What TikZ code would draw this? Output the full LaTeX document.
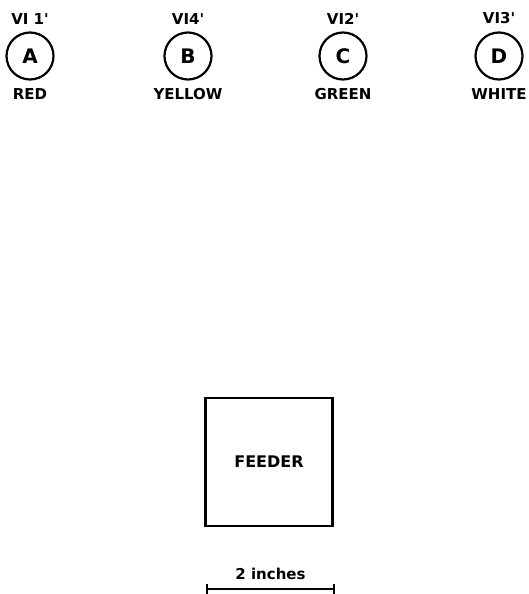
\documentclass[tikz,border=0pt]{standalone}
\usepackage{fontspec}
\setmainfont{DejaVu Sans}
\newfontfamily\plotFont{DejaVu Sans}
\usepackage{tikz}
\usetikzlibrary{positioning}

\begin{document}
\begin{tikzpicture}[
    x=1pt, y=-1pt,
    station/.style={
        circle, draw=black, line width=2.2pt,
        minimum size=47pt, inner sep=0pt,
        font=\plotFont\bfseries\fontsize{20}{20}\selectfont
    },
    tagText/.style={
        font=\plotFont\bfseries\fontsize{15}{15}\selectfont,
        inner sep=0pt
    },
    feederBox/.style={
        rectangle, draw=black, line width=2.4pt,
        minimum width=127pt, minimum height=128pt,
        font=\plotFont\bfseries\fontsize{16}{16}\selectfont
    },
    scaleBar/.style={
        line width=2.2pt
    }
]

    % Frame
    \useasboundingbox (0,0) rectangle (529,594);

    % Stations
    \node[station] (stA) at (30, 56) {A};
    \node[station] (stB) at (188, 56) {B};
    \node[station] (stC) at (343, 56) {C};
    \node[station] (stD) at (499, 56) {D};

    % Station tags
    \node[tagText, above=7pt of stA] {VI 1'};
    \node[tagText, above=7pt of stB] {VI4'};
    \node[tagText, above=7pt of stC] {VI2'};
    \node[tagText, above=7pt of stD] {VI3'};

    \node[tagText, below=8pt of stA] {RED};
    \node[tagText, below=8pt of stB] {YELLOW};
    \node[tagText, below=8pt of stC] {GREEN};
    \node[tagText, below=8pt of stD] {WHITE};

    % Feeder
    \node[feederBox] (feeder) at (269, 462) {FEEDER};

    % Scale bar
    \coordinate (barL) at (207, 589);
    \coordinate (barR) at (334, 589);
    \draw[scaleBar] (barL) -- node[tagText, above=8pt] (barText) {2 inches} (barR);
    \draw[scaleBar] ([yshift=-5pt]barL) -- ([yshift=5pt]barL);
    \draw[scaleBar] ([yshift=-5pt]barR) -- ([yshift=5pt]barR);

\end{tikzpicture}
\end{document}
